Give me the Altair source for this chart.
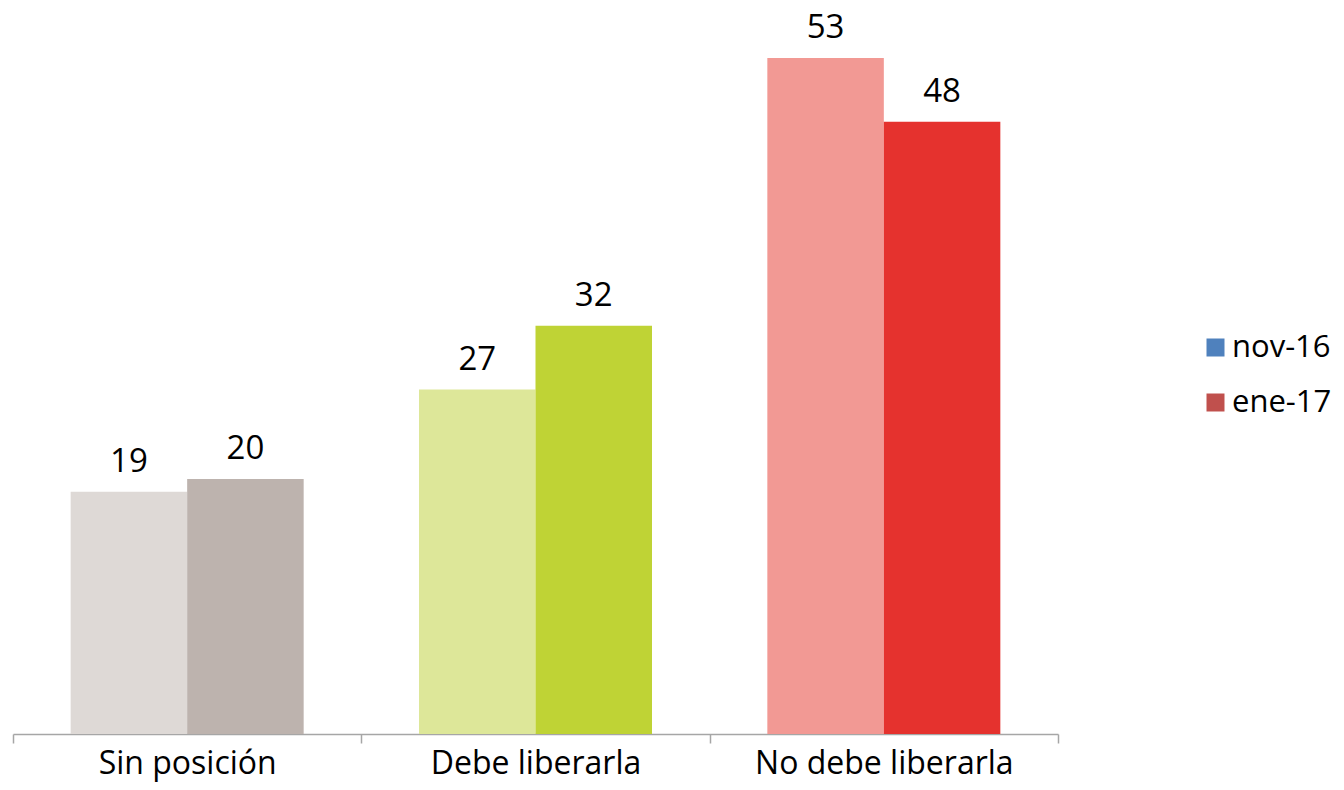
import altair as alt
import pandas as pd

categories = ["Sin posición", "Debe liberarla", "No debe liberarla"]
series = ["nov-16", "ene-17"]
nov_values = [19, 27, 53]
ene_values = [20, 32, 48]
light_colors = ["#DED9D6", "#DDE799", "#F29994"]
dark_colors = ["#BDB3AE", "#BFD335", "#E5322E"]
legend_colors = ["#4F81BD", "#C0504D"]

rows = []
for i, c in enumerate(categories):
    rows.append({"cat": c, "series": series[0], "value": nov_values[i], "col": light_colors[i]})
    rows.append({"cat": c, "series": series[1], "value": ene_values[i], "col": dark_colors[i]})
df = pd.DataFrame(rows)

legend_df = pd.DataFrame({"cat": [categories[0]] * 2, "series": series, "value": [0, 0]})

FONT = "Open Sans"

x = alt.X(
    "cat:N",
    sort=categories,
    scale=alt.Scale(paddingInner=0, paddingOuter=0),
    axis=alt.Axis(
        title=None,
        tickBand="extent",
        labelAngle=0,
        labelFont=FONT,
        labelFontSize=32,
        labelColor="black",
        labelPadding=5,
        labelLimit=0,
        domainColor="#A6A6A6",
        domainWidth=1.5,
        tickColor="#A6A6A6",
        tickWidth=1.5,
        tickSize=9,
    ),
)
xo = alt.XOffset("series:N", sort=series, scale=alt.Scale(paddingOuter=0.495, paddingInner=0))
y = alt.Y("value:Q", scale=alt.Scale(domain=[0, 56.6], nice=False), axis=None)

bars = alt.Chart(df).mark_bar().encode(
    x=x, xOffset=xo, y=y, fill=alt.Fill("col:N", scale=None)
)

labels = alt.Chart(df).mark_text(
    font=FONT, fontSize=33, color="black", baseline="alphabetic", dy=-20
).encode(x=x, xOffset=xo, y=y, text="value:Q")

legend_layer = alt.Chart(legend_df).mark_bar().encode(
    x=x,
    xOffset=xo,
    y=y,
    color=alt.Color(
        "series:N",
        sort=series,
        scale=alt.Scale(domain=series, range=legend_colors),
        legend=alt.Legend(
            title=None,
            orient="none",
            legendX=1187,
            legendY=320,
            symbolType="square",
            symbolSize=324,
            symbolStrokeWidth=0,
            labelFont=FONT,
            labelFontSize=31,
            labelColor="black",
            labelOffset=1,
            rowPadding=23,
            padding=0,
        ),
    ),
)

chart = (
    alt.layer(bars, labels, legend_layer)
    .properties(width=1045, height=722, padding={"left": 4, "top": 3, "right": 0, "bottom": 3})
    .configure_view(stroke=None)
)

chart.save("out.html", embed_options={"renderer": "svg", "actions": False})
